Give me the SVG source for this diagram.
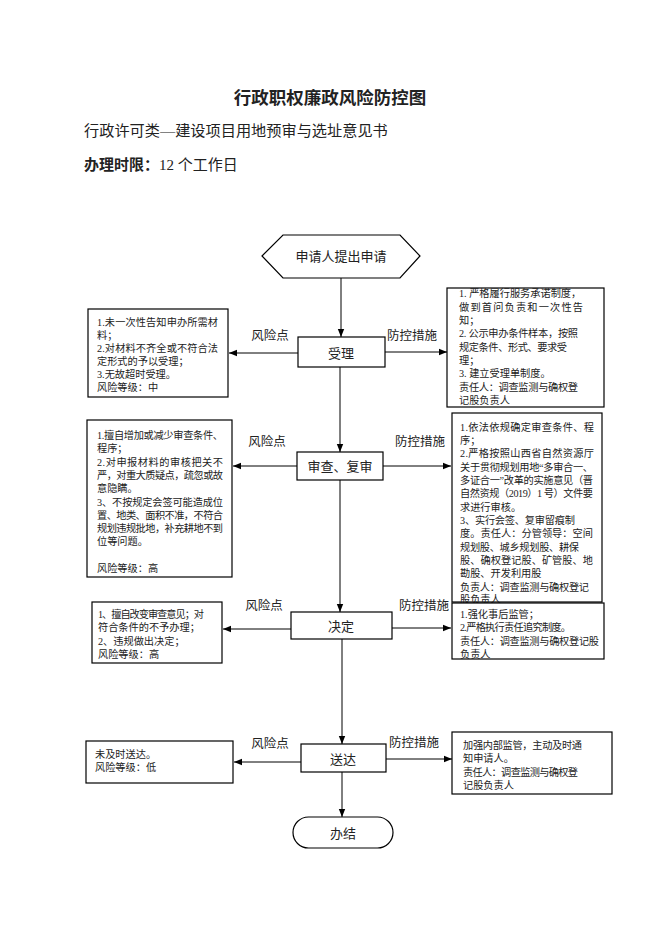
<svg xmlns="http://www.w3.org/2000/svg" width="662" height="936" viewBox="0 0 662 936">
<defs>
<marker id="ah" viewBox="0 0 10 10" refX="10" refY="5" markerWidth="8" markerHeight="8" markerUnits="userSpaceOnUse" orient="auto">
<path d="M0,1 L10,5 L0,9 z" fill="#000"/>
</marker>
<style>
.t{font-family:"Liberation Serif","Noto Sans CJK SC",serif;fill:#222}
.box{fill:#fff;stroke:#000;stroke-width:1.2}
.bt{font-size:10.2px}
.nl{font-size:13px;text-anchor:middle;dominant-baseline:central}
.lb{font-size:12.5px;text-anchor:middle}
.ln{stroke:#000;stroke-width:1;fill:none}
</style>
</defs>
<rect width="662" height="936" fill="#fff"/>
<text class="t" x="330" y="104" font-size="17.5" font-weight="bold" text-anchor="middle">行政职权廉政风险防控图</text>
<text class="t" x="84" y="136" font-size="15.2">行政许可类—建设项目用地预审与选址意见书</text>
<text class="t" x="84" y="170" font-size="15"><tspan font-weight="bold">办理时限：</tspan>12 个工作日</text>

<g id="connectors">
<line class="ln" x1="341" y1="278" x2="341" y2="337" marker-end="url(#ah)"/>
<line class="ln" x1="340" y1="367" x2="340" y2="452" marker-end="url(#ah)"/>
<line class="ln" x1="340" y1="480" x2="340" y2="612" marker-end="url(#ah)"/>
<line class="ln" x1="342" y1="639" x2="342" y2="744" marker-end="url(#ah)"/>
<line class="ln" x1="342" y1="772" x2="342" y2="817" marker-end="url(#ah)"/>
<line class="ln" x1="298" y1="353" x2="229" y2="353" marker-end="url(#ah)"/>
<line class="ln" x1="385" y1="352" x2="447" y2="352" marker-end="url(#ah)"/>
<line class="ln" x1="297" y1="466" x2="233" y2="466" marker-end="url(#ah)"/>
<line class="ln" x1="383" y1="466" x2="451" y2="466" marker-end="url(#ah)"/>
<line class="ln" x1="291" y1="629" x2="223" y2="629" marker-end="url(#ah)"/>
<line class="ln" x1="392" y1="628" x2="451" y2="628" marker-end="url(#ah)"/>
<line class="ln" x1="301" y1="762" x2="234" y2="762" marker-end="url(#ah)"/>
<line class="ln" x1="386" y1="759" x2="452" y2="759" marker-end="url(#ah)"/>
<text class="t lb" x="270" y="340">风险点</text>
<text class="t lb" x="412" y="340">防控措施</text>
<text class="t lb" x="267" y="446">风险点</text>
<text class="t lb" x="420" y="446">防控措施</text>
<text class="t lb" x="264" y="610">风险点</text>
<text class="t lb" x="424" y="610">防控措施</text>
<text class="t lb" x="270" y="748">风险点</text>
<text class="t lb" x="414" y="747">防控措施</text>
</g>

<g id="start">
<polygon class="box" points="262,256 283,235 400,235 420,256 400,278 283,278"/>
<text class="t nl" x="341" y="256">申请人提出申请</text>
</g>
<g id="accept">
<rect class="box" x="298" y="337" width="87" height="30"/>
<text class="t nl" x="341" y="353">受理</text>
</g>
<g id="review">
<rect class="box" x="297" y="452" width="86" height="28"/>
<text class="t nl" x="340" y="466">审查、复审</text>
</g>
<g id="decide">
<rect class="box" x="291" y="612" width="101" height="27"/>
<text class="t nl" x="341" y="626">决定</text>
</g>
<g id="deliver">
<rect class="box" x="301" y="744" width="85" height="28"/>
<text class="t nl" x="343" y="759">送达</text>
</g>
<g id="end">
<rect class="box" x="293" y="817" width="100" height="31" rx="15.5" ry="15.5"/>
<text class="t nl" x="343" y="833">办结</text>
</g>

<g id="risk1">
<rect class="box" x="88" y="309" width="140" height="88"/>
<text class="t bt" x="97" y="326" textLength="121">1.未一次性告知申办所需材</text>
<text class="t bt" x="97" y="339">料；</text>
<text class="t bt" x="97" y="352" textLength="121">2.对材料不齐全或不符合法</text>
<text class="t bt" x="97" y="365">定形式的予以受理；</text>
<text class="t bt" x="97" y="378">3.无故超时受理。</text>
<text class="t bt" x="97" y="391">风险等级：中</text>
</g>
<g id="measure1">
<rect class="box" x="447" y="288" width="157" height="119"/>
<text class="t bt" x="459" y="297">1. 严格履行服务承诺制度，</text>
<text class="t bt" x="459" y="311" textLength="124">做到首问负责和一次性告</text>
<text class="t bt" x="459" y="324">知；</text>
<text class="t bt" x="459" y="337" textLength="119">2. 公示申办条件样本，按照</text>
<text class="t bt" x="459" y="351" textLength="108">规定条件、形式、要求受</text>
<text class="t bt" x="459" y="364">理；</text>
<text class="t bt" x="459" y="377">3. 建立受理单制度。</text>
<text class="t bt" x="459" y="391" textLength="119">责任人：调查监测与确权登</text>
<text class="t bt" x="459" y="404">记股负责人</text>
</g>
<g id="risk2">
<rect class="box" x="87" y="420" width="145" height="157"/>
<text class="t bt" x="97" y="439" textLength="126">1.擅自增加或减少审查条件、</text>
<text class="t bt" x="97" y="452">程序；</text>
<text class="t bt" x="97" y="466" textLength="126">2.对申报材料的审核把关不</text>
<text class="t bt" x="97" y="479" textLength="126">严，对重大质疑点，疏忽或故</text>
<text class="t bt" x="97" y="492">意隐瞒。</text>
<text class="t bt" x="97" y="506" textLength="126">3、不按规定会签可能造成位</text>
<text class="t bt" x="97" y="519" textLength="126">置、地类、面积不准，不符合</text>
<text class="t bt" x="97" y="532" textLength="126">规划违规批地，补充耕地不到</text>
<text class="t bt" x="97" y="545">位等问题。</text>
<text class="t bt" x="97" y="572">风险等级：高</text>
</g>
<g id="measure2">
<rect class="box" x="452" y="413" width="150" height="189"/>
<text class="t bt" x="460" y="431" textLength="134">1.依法依规确定审查条件、程</text>
<text class="t bt" x="460" y="444">序；</text>
<text class="t bt" x="460" y="457" textLength="134">2.严格按照山西省自然资源厅</text>
<text class="t bt" x="460" y="471" textLength="133">关于贯彻规划用地“多审合一、</text>
<text class="t bt" x="460" y="484" textLength="133">多证合一”改革的实施意见（晋</text>
<text class="t bt" x="460" y="497" textLength="133">自然资规（2019）1 号）文件要</text>
<text class="t bt" x="460" y="511">求进行审核。</text>
<text class="t bt" x="460" y="524" textLength="115">3、实行会签、复审留痕制</text>
<text class="t bt" x="460" y="537" textLength="133">度。责任人：分管领导：空间</text>
<text class="t bt" x="460" y="551" textLength="119">规划股、城乡规划股、耕保</text>
<text class="t bt" x="460" y="564" textLength="133">股、确权登记股、矿管股、地</text>
<text class="t bt" x="460" y="577">勘股、开发利用股</text>
<text class="t bt" x="460" y="591" textLength="129">负责人：调查监测与确权登记</text>
<text class="t bt" x="460" y="603">股负责人</text>
</g>
<g id="risk3">
<rect class="box" x="92" y="602" width="130" height="61"/>
<text class="t bt" x="98" y="618" textLength="106">1、擅自改变审查意见；对</text>
<text class="t bt" x="98" y="631">符合条件的不予办理；</text>
<text class="t bt" x="98" y="645">2、违规做出决定；</text>
<text class="t bt" x="98" y="658">风险等级：高</text>
</g>
<g id="measure3">
<rect class="box" x="452" y="603" width="152" height="56"/>
<text class="t bt" x="460" y="618">1.强化事后监管；</text>
<text class="t bt" x="460" y="631" textLength="111">2.严格执行责任追究制度。</text>
<text class="t bt" x="460" y="645" textLength="139">责任人：调查监测与确权登记股</text>
<text class="t bt" x="460" y="658">负责人</text>
</g>
<g id="risk4">
<rect class="box" x="86" y="741" width="147" height="42"/>
<text class="t bt" x="95" y="758">未及时送达。</text>
<text class="t bt" x="95" y="771">风险等级：低</text>
</g>
<g id="measure4">
<rect class="box" x="452" y="732" width="160" height="62"/>
<text class="t bt" x="463" y="749" textLength="119">加强内部监管，主动及时通</text>
<text class="t bt" x="463" y="762">知申请人。</text>
<text class="t bt" x="463" y="776" textLength="115">责任人：调查监测与确权登</text>
<text class="t bt" x="463" y="789">记股负责人</text>
</g>
</svg>
